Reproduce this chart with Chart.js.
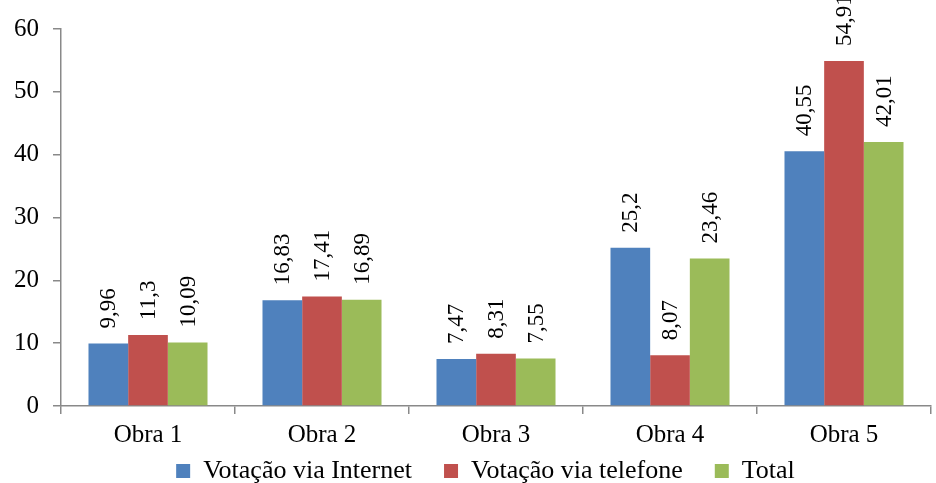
<!DOCTYPE html>
<html>
<head>
<meta charset="utf-8">
<script src="https://cdn.jsdelivr.net/npm/chart.js@4"></script>
<style>
  html, body { margin: 0; padding: 0; background: #fff; }
  .chart-container { width: 936px; height: 483px; }
</style>
</head>
<body>
<div class="chart-container"><canvas id="chart"></canvas></div>
<script>
const categories = ['Obra 1', 'Obra 2', 'Obra 3', 'Obra 4', 'Obra 5'];
const internetValues = [9.96, 16.83, 7.47, 25.2, 40.55];
const telefoneValues = [11.3, 17.41, 8.31, 8.07, 54.91];
const totalValues = [10.09, 16.89, 7.55, 23.46, 42.01];
const yTicks = [0, 10, 20, 30, 40, 50, 60];

const serif = "'Liberation Serif', 'Times New Roman', serif";
const axisColor = '#898989';

// labels rotated above each bar, decimal comma
const barLabels = {
  id: 'barLabels',
  afterDatasetsDraw(chart) {
    const ctx = chart.ctx;
    ctx.save();
    ctx.font = '23px ' + serif;
    ctx.fillStyle = '#000';
    ctx.textAlign = 'left';
    ctx.textBaseline = 'middle';
    chart.data.datasets.forEach((ds, di) => {
      chart.getDatasetMeta(di).data.forEach((bar, i) => {
        const text = String(ds.data[i]).replace('.', ',');
        ctx.save();
        ctx.translate(bar.x, bar.y - 15);
        ctx.rotate(-Math.PI / 2);
        ctx.fillText(text, 0, 1);
        ctx.restore();
      });
    });
    ctx.restore();
  }
};

// legend sits higher/right than Chart.js would put it
const legendTweak = {
  id: 'legendTweak',
  beforeInit(chart) {
    const fit = chart.legend.fit;
    chart.legend.fit = function () {
      fit.bind(chart.legend)();
      this.height = 29;
    };
  },
  afterLayout(chart) {
    const lg = chart.legend;
    lg.top -= 28;
    lg.height += 28;
    lg.left += 20;
    lg.right += 20;
  }
};

new Chart(document.getElementById('chart'), {
  type: 'bar',
  data: {
    labels: categories,
    datasets: [
      { label: 'Votação via Internet', data: internetValues, backgroundColor: '#4F81BD' },
      { label: 'Votação via telefone', data: telefoneValues, backgroundColor: '#C0504D' },
      { label: 'Total', data: totalValues, backgroundColor: '#9BBB59' },
    ],
  },
  options: {
    responsive: true,
    maintainAspectRatio: false,
    animation: false,
    layout: { padding: { top: 27, right: 5, left: 0, bottom: 0 } },
    datasets: { bar: { categoryPercentage: 0.684, barPercentage: 1.0 } },
    plugins: {
      tooltip: { enabled: false },
      legend: {
        position: 'bottom',
        labels: {
          font: { family: serif, size: 26 },
          color: '#000',
          boxWidth: 14,
          boxHeight: 14,
          padding: 32,
        },
      },
    },
    scales: {
      x: {
        grid: { drawOnChartArea: false, tickLength: 8, color: axisColor, lineWidth: 1.5 },
        border: { color: axisColor, width: 1.5 },
        ticks: { font: { family: serif, size: 25 }, color: '#000', padding: 6 },
        afterFit(scale) { scale.height = 48; },
      },
      y: {
        min: 0,
        max: 60,
        afterBuildTicks(scale) { scale.ticks = yTicks.map(v => ({ value: v })); },
        grid: { drawOnChartArea: false, tickLength: 8, color: axisColor, lineWidth: 1.5 },
        border: { color: axisColor, width: 1.5 },
        ticks: { font: { family: serif, size: 25 }, color: '#000', padding: 14 },
        afterFit(scale) { scale.width = 61; },
      },
    },
  },
  plugins: [barLabels, legendTweak],
});
</script>
</body>
</html>
